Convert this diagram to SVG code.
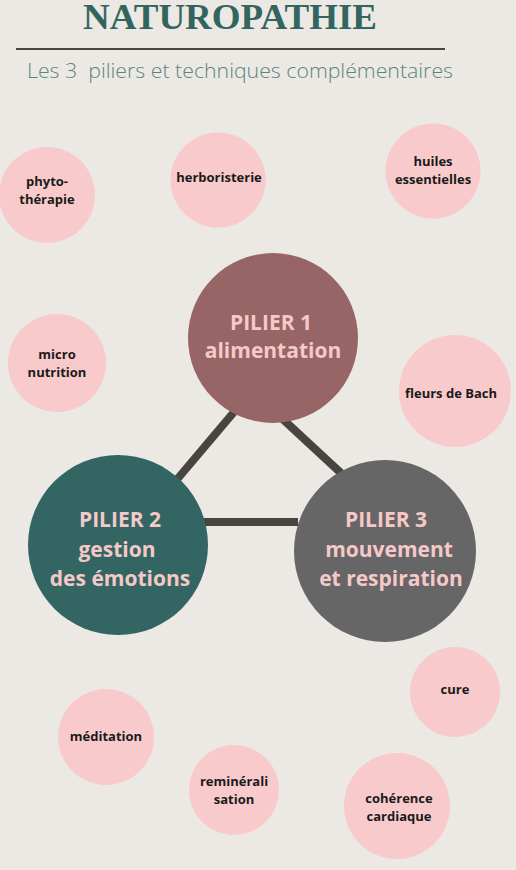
<svg xmlns="http://www.w3.org/2000/svg" width="516" height="870" viewBox="0 0 516 870">
<style>
.bg{fill:#ece9e4}
.tech{fill:#f8cacb}
.tl{font-family:"Open Sans","Liberation Sans",sans-serif;font-weight:700;font-size:13px;fill:#1a1a1a;text-anchor:middle}
.pl{font-family:"Open Sans","Liberation Sans",sans-serif;font-weight:700;font-size:21px;fill:#f6c9c8;text-anchor:middle}
.conn{stroke:#48443f;stroke-width:8;fill:none}
</style>
<rect class="bg" x="0" y="0" width="516" height="870"/>
<g id="header">
<text x="230" y="29" font-family="'Liberation Serif','DejaVu Serif',serif" font-weight="700" font-size="36" fill="#33655f" text-anchor="middle" textLength="294" lengthAdjust="spacingAndGlyphs">NATUROPATHIE</text>
<line x1="16" y1="49" x2="445" y2="49" stroke="#4a4540" stroke-width="2"/>
<text x="27" y="78" font-family="'Open Sans','Liberation Sans',sans-serif" font-weight="300" font-size="20.5" fill="#5a8580" textLength="426" lengthAdjust="spacingAndGlyphs" xml:space="preserve">Les 3  piliers et techniques complémentaires</text>
</g>
<g id="connectors">
<line class="conn" x1="234" y1="412" x2="174" y2="483"/>
<line class="conn" x1="274" y1="411" x2="342" y2="474"/>
<line class="conn" x1="202" y1="522" x2="298" y2="522"/>
</g>
<g id="phytotherapie"><circle class="tech" cx="47" cy="195" r="48"/><text class="tl" x="47" y="186">phyto-</text><text class="tl" x="47" y="204">thérapie</text></g>
<g id="herboristerie"><circle class="tech" cx="218" cy="180" r="47.5"/><text class="tl" x="219" y="182">herboristerie</text></g>
<g id="huiles"><circle class="tech" cx="433" cy="171" r="47.5"/><text class="tl" x="433" y="166">huiles</text><text class="tl" x="433" y="184">essentielles</text></g>
<g id="micronutrition"><circle class="tech" cx="57" cy="363" r="49"/><text class="tl" x="57" y="359">micro</text><text class="tl" x="57" y="377">nutrition</text></g>
<g id="fleurs"><circle class="tech" cx="455" cy="391" r="56"/><text class="tl" x="451" y="398">fleurs de Bach</text></g>
<g id="pilier1"><circle cx="273" cy="338" r="85" fill="#976565"/><text class="pl" x="271" y="330">PILIER 1</text><text class="pl" x="273" y="358">alimentation</text></g>
<g id="pilier2"><circle cx="118" cy="545" r="90" fill="#336663"/><text class="pl" x="120" y="527">PILIER 2</text><text class="pl" x="117" y="557">gestion</text><text class="pl" x="120" y="586">des émotions</text></g>
<g id="pilier3"><circle cx="385" cy="551" r="91" fill="#666666"/><text class="pl" x="386" y="527">PILIER 3</text><text class="pl" x="389" y="557">mouvement</text><text class="pl" x="391" y="586">et respiration</text></g>
<g id="cure"><circle class="tech" cx="455" cy="692" r="45"/><text class="tl" x="455" y="694">cure</text></g>
<g id="meditation"><circle class="tech" cx="106" cy="737" r="48"/><text class="tl" x="106" y="741">méditation</text></g>
<g id="remineralisation"><circle class="tech" cx="234" cy="790" r="45"/><text class="tl" x="234" y="786">reminérali</text><text class="tl" x="234" y="804">sation</text></g>
<g id="coherence"><circle class="tech" cx="397" cy="806" r="53"/><text class="tl" x="399" y="803">cohérence</text><text class="tl" x="399" y="821">cardiaque</text></g>
</svg>
